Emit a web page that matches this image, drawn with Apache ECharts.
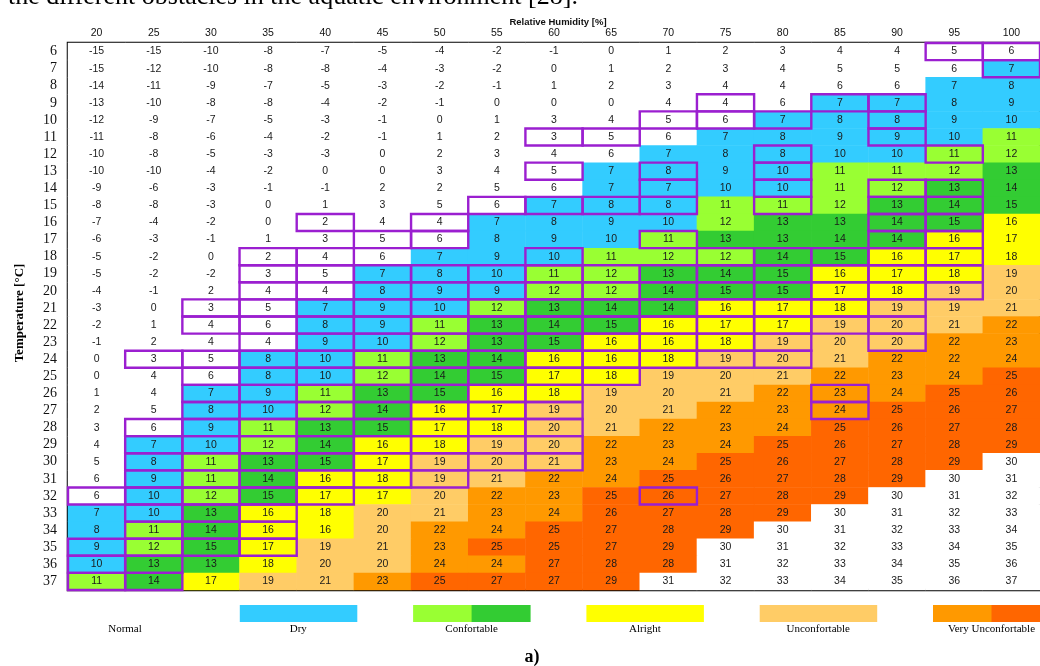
<!DOCTYPE html>
<html>
<head>
<meta charset="utf-8">
<script src="https://cdn.jsdelivr.net/npm/echarts@6/dist/echarts.min.js"></script>
<style>
  html, body { margin: 0; padding: 0; background: #fff; }
  #chart { width: 1040px; height: 666px; }
</style>
</head>
<body>
<div id="chart"></div>
<script>
// Relative humidity columns [%]
const humidity = ['20','25','30','35','40','45','50','55','60','65','70','75','80','85','90','95','100'];
// Air temperature rows [°C]
const temperatures = ['6','7','8','9','10','11','12','13','14','15','16','17','18','19','20','21',
  '22','23','24','25','26','27','28','29','30','31','32','33','34','35','36','37'];

// Perceived temperature, one row per air temperature, one entry per humidity column
const perceived = [
  [-15,-15,-10,-8,-7,-5,-4,-2,-1,0,1,2,3,4,4,5,6],
  [-15,-12,-10,-8,-8,-4,-3,-2,0,1,2,3,4,5,5,6,7],
  [-14,-11,-9,-7,-5,-3,-2,-1,1,2,3,4,4,6,6,7,8],
  [-13,-10,-8,-8,-4,-2,-1,0,0,0,4,4,6,7,7,8,9],
  [-12,-9,-7,-5,-3,-1,0,1,3,4,5,6,7,8,8,9,10],
  [-11,-8,-6,-4,-2,-1,1,2,3,5,6,7,8,9,9,10,11],
  [-10,-8,-5,-3,-3,0,2,3,4,6,7,8,8,10,10,11,12],
  [-10,-10,-4,-2,0,0,3,4,5,7,8,9,10,11,11,12,13],
  [-9,-6,-3,-1,-1,2,2,5,6,7,7,10,10,11,12,13,14],
  [-8,-8,-3,0,1,3,5,6,7,8,8,11,11,12,13,14,15],
  [-7,-4,-2,0,2,4,4,7,8,9,10,12,13,13,14,15,16],
  [-6,-3,-1,1,3,5,6,8,9,10,11,13,13,14,14,16,17],
  [-5,-2,0,2,4,6,7,9,10,11,12,12,14,15,16,17,18],
  [-5,-2,-2,3,5,7,8,10,11,12,13,14,15,16,17,18,19],
  [-4,-1,2,4,4,8,9,9,12,12,14,15,15,17,18,19,20],
  [-3,0,3,5,7,9,10,12,13,14,14,16,17,18,19,19,21],
  [-2,1,4,6,8,9,11,13,14,15,16,17,17,19,20,21,22],
  [-1,2,4,4,9,10,12,13,15,16,16,18,19,20,20,22,23],
  [0,3,5,8,10,11,13,14,16,16,18,19,20,21,22,22,24],
  [0,4,6,8,10,12,14,15,17,18,19,20,21,22,23,24,25],
  [1,4,7,9,11,13,15,16,18,19,20,21,22,23,24,25,26],
  [2,5,8,10,12,14,16,17,19,20,21,22,23,24,25,26,27],
  [3,6,9,11,13,15,17,18,20,21,22,23,24,25,26,27,28],
  [4,7,10,12,14,16,18,19,20,22,23,24,25,26,27,28,29],
  [5,8,11,13,15,17,19,20,21,23,24,25,26,27,28,29,30],
  [6,9,11,14,16,18,19,21,22,24,25,26,27,28,29,30,31],
  [6,10,12,15,17,17,20,22,23,25,26,27,28,29,30,31,32],
  [7,10,13,16,18,20,21,23,24,26,27,28,29,30,31,32,33],
  [8,11,14,16,16,20,22,24,25,27,28,29,30,31,32,33,34],
  [9,12,15,17,19,21,23,25,25,27,29,30,31,32,33,34,35],
  [10,13,13,18,20,20,24,24,27,28,28,31,32,33,34,35,36],
  [11,14,17,19,21,23,25,27,27,29,31,32,33,34,35,36,37]
];

// Humidity columns framed in purple, listed per air temperature
const framedByTemp = {
  6: [95,100], 7: [100], 9: [75,85,90], 10: [70,75,80,90], 11: [60,65,90],
  12: [80,95], 13: [60,70,80], 14: [70,80,90,95], 15: [55,60,65,70,80,90,95],
  16: [40,50,90,95], 17: [45,50,70,90,95], 18: [35,40,60,75,80,85,90,95],
  19: [35,40,45,50,55,60,65,70,75,80,85,90,95],
  20: [35,40,45,50,55,60,65,70,75,80,85,90,95],
  21: [30,35,40,45,50,55,60,65,70,75,80,85,90],
  22: [30,35,40,45,50,55,60,65,70,75,80,85,90],
  23: [35,40,45,50,55,60,65,70,75,80,90],
  24: [25,30,35,40,45,50,55,60,65,70,75,80],
  25: [30,35,40,45,50,55,60,65],
  26: [30,35,40,45,50,55,60,85],
  27: [30,35,40,45,50,55,60,85],
  28: [25,30,35,40,45,50,55,60],
  29: [25,30,35,40,45,50,55,60],
  30: [25,30,35,40,45,50,55,60],
  31: [25,30,35,40,45,50],
  32: [20,25,30,35,40,70],
  33: [25,30,35], 34: [25,30,35], 35: [20,25,30,35], 36: [20,25], 37: [20,25]
};

// Comfort classes and their colours
const classNames = ['Normal', 'Dry', 'Confortable', 'Alright', 'Unconfortable', 'Very Unconfortable'];
const classColors = [
  ['#ffffff'],
  ['#33ccff'],
  ['#99ff33', '#33cc33'],
  ['#ffff00'],
  ['#ffcc66'],
  ['#ff9900', '#ff6600']
];

const heatData = [];
perceived.forEach((row, yi) => row.forEach((v, xi) => heatData.push([xi, yi, v])));

const frameData = [];
Object.keys(framedByTemp).forEach(t => {
  framedByTemp[t].forEach(rh => frameData.push([humidity.indexOf(String(rh)), temperatures.indexOf(String(t))]));
});

const FRAME = '#9b1fd0';
const chart = echarts.init(document.getElementById('chart'), null, { renderer: 'canvas' });

// legend swatches and captions under the table
const legendGraphics = [];
const slotCenter0 = 125, slotStep = 173.3, swatchW = 117;
classNames.forEach((name, i) => {
  const cx = slotCenter0 + i * slotStep;
  const cols = classColors[i];
  if (i > 0) {
    const w = swatchW / cols.length;
    cols.forEach((c, k) => legendGraphics.push({
      type: 'rect', left: cx - swatchW / 2 + k * w, top: 605,
      shape: { width: w + 0.5, height: 17 }, style: { fill: c }
    }));
  }
  legendGraphics.push({
    type: 'text', x: cx, y: 629,
    style: { text: name, font: '11px "Liberation Serif", serif', fill: '#000', align: 'center', verticalAlign: 'middle' }
  });
});

chart.setOption({
  backgroundColor: '#fff',
  animation: false,
  grid: { left: 68, top: 43, right: -9, bottom: 76, show: true, borderColor: '#000', borderWidth: 2.5, backgroundColor: 'transparent' },
  xAxis: {
    type: 'category', position: 'top', data: humidity,
    axisLine: { show: false }, axisTick: { show: false }, splitLine: { show: false },
    axisLabel: { interval: 0, margin: 4, fontFamily: '"Liberation Sans", sans-serif', fontSize: 10.5, color: '#111' }
  },
  yAxis: {
    type: 'category', inverse: true, data: temperatures,
    axisLine: { show: false }, axisTick: { show: false }, splitLine: { show: false },
    axisLabel: { interval: 0, margin: 11, fontFamily: '"Liberation Serif", serif', fontSize: 14, color: '#111' }
  },
  visualMap: {
    show: false, type: 'piecewise', dimension: 2, seriesIndex: 0,
    pieces: [
      { lt: 7, color: '#ffffff' },
      { gte: 7, lte: 10, color: '#33ccff' },
      { gte: 11, lte: 12, color: '#99ff33' },
      { gte: 13, lte: 15, color: '#33cc33' },
      { gte: 16, lte: 18, color: '#ffff00' },
      { gte: 19, lte: 21, color: '#ffcc66' },
      { gte: 22, lte: 24, color: '#ff9900' },
      { gte: 25, lte: 29, color: '#ff6600' },
      { gte: 30, color: '#ffffff' }
    ]
  },
  series: [
    {
      type: 'heatmap', data: heatData, z: 2,
      itemStyle: { borderWidth: 0 },
      label: { show: true, fontFamily: '"Liberation Sans", sans-serif', fontSize: 10.5, color: '#1a1a1a',
        formatter: p => String(p.value[2]) },
      emphasis: { disabled: true }
    },
    {
      type: 'custom', data: frameData, z: 5, silent: true,
      renderItem: (params, api) => {
        const c = api.coord([api.value(0), api.value(1)]);
        const s = api.size([1, 1]);
        return { type: 'rect', shape: { x: c[0] - s[0] / 2, y: c[1] - s[1] / 2, width: s[0], height: s[1] },
          style: { fill: 'none', stroke: FRAME, lineWidth: 2.4 } };
      }
    }
  ],
  graphic: [
    { type: 'text', x: 8, y: -3,
      style: { text: 'the different obstacles in the aquatic environment [28].', font: '26px "Liberation Serif", serif', fill: '#000', verticalAlign: 'middle' } },
    { type: 'text', x: 558, y: 22,
      style: { text: 'Relative Humidity [%]', font: 'bold 9.5px "Liberation Sans", sans-serif', fill: '#111', align: 'center', verticalAlign: 'middle' } },
    { type: 'text', x: 20, y: 313, rotation: Math.PI / 2,
      style: { text: 'Temperature [°C]', font: 'bold 13px "Liberation Serif", serif', fill: '#000', align: 'center', verticalAlign: 'middle' } },
    { type: 'text', x: 532, y: 657,
      style: { text: 'a)', font: 'bold 18px "Liberation Serif", serif', fill: '#000', align: 'center', verticalAlign: 'middle' } },
    ...legendGraphics
  ]
});
</script>
</body>
</html>
